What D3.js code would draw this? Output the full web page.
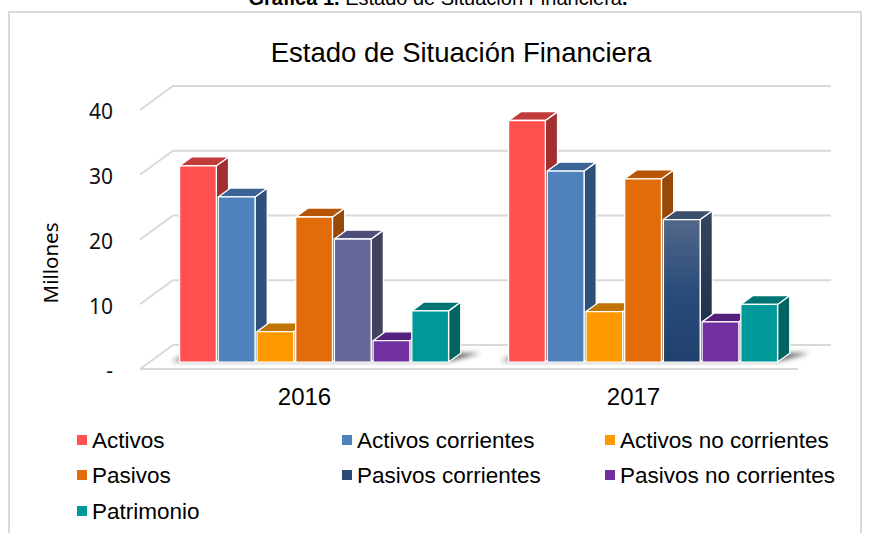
<!DOCTYPE html>
<html>
<head>
<meta charset="utf-8">
<script src="https://cdn.jsdelivr.net/npm/d3@7"></script>
<style>
  body { margin: 0; background: #fff; }
  svg { display: block; }
  text { font-family: "Liberation Sans", Arial, sans-serif; fill: #000; }
</style>
</head>
<body>
<svg id="chart" width="876" height="533"></svg>
<script>
// data (millones)
var years = ["2016", "2017"];
var series = ["Activos", "Activos corrientes", "Activos no corrientes",
  "Pasivos", "Pasivos corrientes", "Pasivos no corrientes", "Patrimonio"];
var values2016 = [30.3, 25.5, 4.7, 22.4, 19.0, 3.3, 7.9];
var values2017 = [37.3, 29.5, 7.8, 28.3, 22.0, 6.2, 8.9];
var yTicks = [0, 10, 20, 30, 40];
var legendOrder = ["Activos", "Activos corrientes", "Activos no corrientes",
  "Pasivos", "Pasivos corrientes", "Pasivos no corrientes", "Patrimonio"];

// face colours: front, top, side
var faces = {
  "Activos": ["#FF5050", "#C23B3B", "#A33030"],
  "Activos corrientes": ["#4F81BD", "#3A6396", "#2F5079"],
  "Activos no corrientes": ["#FF9900", "#C27400", "#A86400"],
  "Pasivos": ["#E36C0A", "#B85507", "#984807"],
  "Pasivos corrientes": ["url(#gradPC)", "#3C4F6D", "url(#gradPCside)"],
  "Pasivos no corrientes": ["#7030A0", "#55207D", "#4A1B6E"],
  "Patrimonio": ["#009999", "#007472", "#006461"]
};
// 2016 "Pasivos corrientes" bar has its own fill in the original
var override2016 = { "Pasivos corrientes": ["#676699", "#4E4E7A", "#42425F"] };
var legendColor = {
  "Activos": "#FF5050", "Activos corrientes": "#4F81BD", "Activos no corrientes": "#FF9900",
  "Pasivos": "#E36C0A", "Pasivos corrientes": "#2A4A76", "Pasivos no corrientes": "#7030A0",
  "Patrimonio": "#009999"
};

var data = years.map(function(y, i) {
  var vals = i === 0 ? values2016 : values2017;
  return { year: y, bars: series.map(function(s, j) { return { year: y, name: s, val: vals[j] }; }) };
});

var svg = d3.select("#chart");

// depth of the 3D box and position of bars inside it
var depth = { dx: 33, dy: -24 };
var f0 = 0.29, f1 = 0.66;

var xBand = d3.scaleBand().domain(years).range([140, 798]);
var xInner = d3.scaleBand().domain(series).range([30, 299]).paddingInner(0.05);
var yScale = d3.scaleLinear().domain([0, 40]).range([369, 110]);

var defs = svg.append("defs");
var g1 = defs.append("linearGradient").attr("id", "gradPC").attr("x1", 0).attr("y1", 0).attr("x2", 0).attr("y2", 1);
g1.append("stop").attr("offset", "0%").attr("stop-color", "#526889");
g1.append("stop").attr("offset", "50%").attr("stop-color", "#2A4C7B");
g1.append("stop").attr("offset", "100%").attr("stop-color", "#20406D");
var g2 = defs.append("linearGradient").attr("id", "gradPCside").attr("x1", 0).attr("y1", 0).attr("x2", 0).attr("y2", 1);
g2.append("stop").attr("offset", "0%").attr("stop-color", "#34455F");
g2.append("stop").attr("offset", "100%").attr("stop-color", "#1A2B45");
defs.append("filter").attr("id", "blur").attr("x", "-20%").attr("y", "-100%").attr("width", "140%").attr("height", "300%")
  .append("feGaussianBlur").attr("stdDeviation", 2.5);

// frame
svg.append("rect")
  .attr("x", 9).attr("y", 12).attr("width", 852).attr("height", 540)
  .attr("fill", "none").attr("stroke", "#d9d9d9").attr("stroke-width", 2);

// caption above the frame (cut off at the top, as in the original)
var cap = svg.append("text").attr("x", 438).attr("y", 5).attr("text-anchor", "middle").style("font-size", "20px");
cap.append("tspan").style("font-weight", "bold").text("Gráfica 1.");
cap.append("tspan").text(" Estado de Situación Financiera");
cap.append("tspan").style("font-weight", "bold").text(".");

// title
svg.append("text")
  .attr("x", 461).attr("y", 62)
  .attr("text-anchor", "middle")
  .style("font-size", "27.5px")
  .text("Estado de Situación Financiera");

// gridlines: side diagonal + back wall
var x0 = xBand.range()[0], x1 = xBand.range()[1];
var grid = svg.append("g").attr("class", "grid")
  .attr("stroke", "#d9d9d9").attr("stroke-width", 2).attr("fill", "none");
grid.selectAll("path").data(yTicks).enter().append("path")
  .attr("d", function(v) {
    var y = yScale(v);
    return "M" + x0 + "," + y + "L" + (x0 + depth.dx) + "," + (y + depth.dy) +
      "L" + (x1 + depth.dx) + "," + (y + depth.dy);
  });
grid.append("line")
  .attr("x1", x0).attr("x2", x1)
  .attr("y1", yScale(0)).attr("y2", yScale(0));

// y axis labels
svg.append("g").selectAll("text").data(yTicks).enter().append("text")
  .attr("x", 113)
  .attr("y", function(v) { return yScale(v) + 2; })
  .attr("dy", "0.35em")
  .attr("text-anchor", "end")
  .style("font-family", "'Noto Sans', sans-serif")
  .style("font-size", "21px")
  .style("fill", "#111")
  .text(function(v) { return v === 0 ? "-" : d3.format("d")(v); });

svg.append("text")
  .attr("transform", "translate(58,263) rotate(-90)")
  .attr("text-anchor", "middle")
  .style("font-family", "'Noto Sans', sans-serif")
  .style("font-size", "20.5px")
  .text("Millones");

// category labels
svg.append("g").selectAll("text").data(years).enter().append("text")
  .attr("x", function(d) { return xBand(d) + xBand.bandwidth() / 2; })
  .attr("y", 405)
  .attr("text-anchor", "middle")
  .style("font-size", "24px")
  .text(function(d) { return d; });

// bars
var bw = xInner.bandwidth();
var sdx = depth.dx * (f1 - f0), sdy = depth.dy * (f1 - f0);
function frontX(d) { return xBand(d.year) + xInner(d.name) + depth.dx * f0; }
function baseY() { return yScale(0) + depth.dy * f0; }
function topY(d) { return yScale(d.val) + depth.dy * f0; }
function colorsOf(d) {
  if (d.year === "2016" && override2016[d.name]) return override2016[d.name];
  return faces[d.name];
}

var groups = svg.append("g").attr("class", "bars").selectAll("g").data(data).enter().append("g");

// floor shadow under each group
groups.append("path")
  .attr("fill", "#333")
  .attr("opacity", 0.85)
  .attr("filter", "url(#blur)")
  .attr("d", function(g) {
    var first = g.bars[0], last = g.bars[g.bars.length - 1];
    var xl = frontX(first), xr = frontX(last) + bw, yb = baseY();
    return "M" + (xl - 8) + "," + (yb - 1) + "L" + (xr) + "," + (yb - 1) +
      "L" + (xr + sdx + 20) + "," + (yb + sdy) + "L" + (xl + sdx) + "," + (yb + sdy) + "Z";
  });

var bar = groups.selectAll("g.bar").data(function(g) { return g.bars; }).enter()
  .append("g").attr("class", "bar")
  .attr("stroke", "#fff").attr("stroke-width", 1.3).attr("stroke-linejoin", "round");

bar.append("path") // side
  .attr("fill", function(d) { return colorsOf(d)[2]; })
  .attr("d", function(d) {
    var x = frontX(d) + bw, t = topY(d), b = baseY();
    return "M" + x + "," + t + "L" + (x + sdx) + "," + (t + sdy) +
      "L" + (x + sdx) + "," + (b + sdy) + "L" + x + "," + b + "Z";
  });
bar.append("path") // top
  .attr("fill", function(d) { return colorsOf(d)[1]; })
  .attr("d", function(d) {
    var x = frontX(d), t = topY(d);
    return "M" + x + "," + t + "L" + (x + bw) + "," + t +
      "L" + (x + bw + sdx) + "," + (t + sdy) + "L" + (x + sdx) + "," + (t + sdy) + "Z";
  });
bar.append("rect") // front
  .attr("x", frontX)
  .attr("y", topY)
  .attr("width", bw)
  .attr("height", function(d) { return baseY() - topY(d); })
  .attr("fill", function(d) { return colorsOf(d)[0]; });

// legend
var legCols = [77, 342, 605], legRows = [440, 475, 511];
var leg = svg.append("g").attr("class", "legend").selectAll("g").data(legendOrder).enter().append("g")
  .attr("transform", function(d, i) {
    return "translate(" + legCols[i % 3] + "," + legRows[Math.floor(i / 3)] + ")";
  });
leg.append("rect")
  .attr("x", 0).attr("y", -5).attr("width", 10).attr("height", 10)
  .attr("fill", function(d) { return legendColor[d]; });
leg.append("text")
  .attr("x", 15).attr("y", 0).attr("dy", "0.36em")
  .style("font-size", "22.5px")
  .text(function(d) { return d; });
</script>
</body>
</html>
